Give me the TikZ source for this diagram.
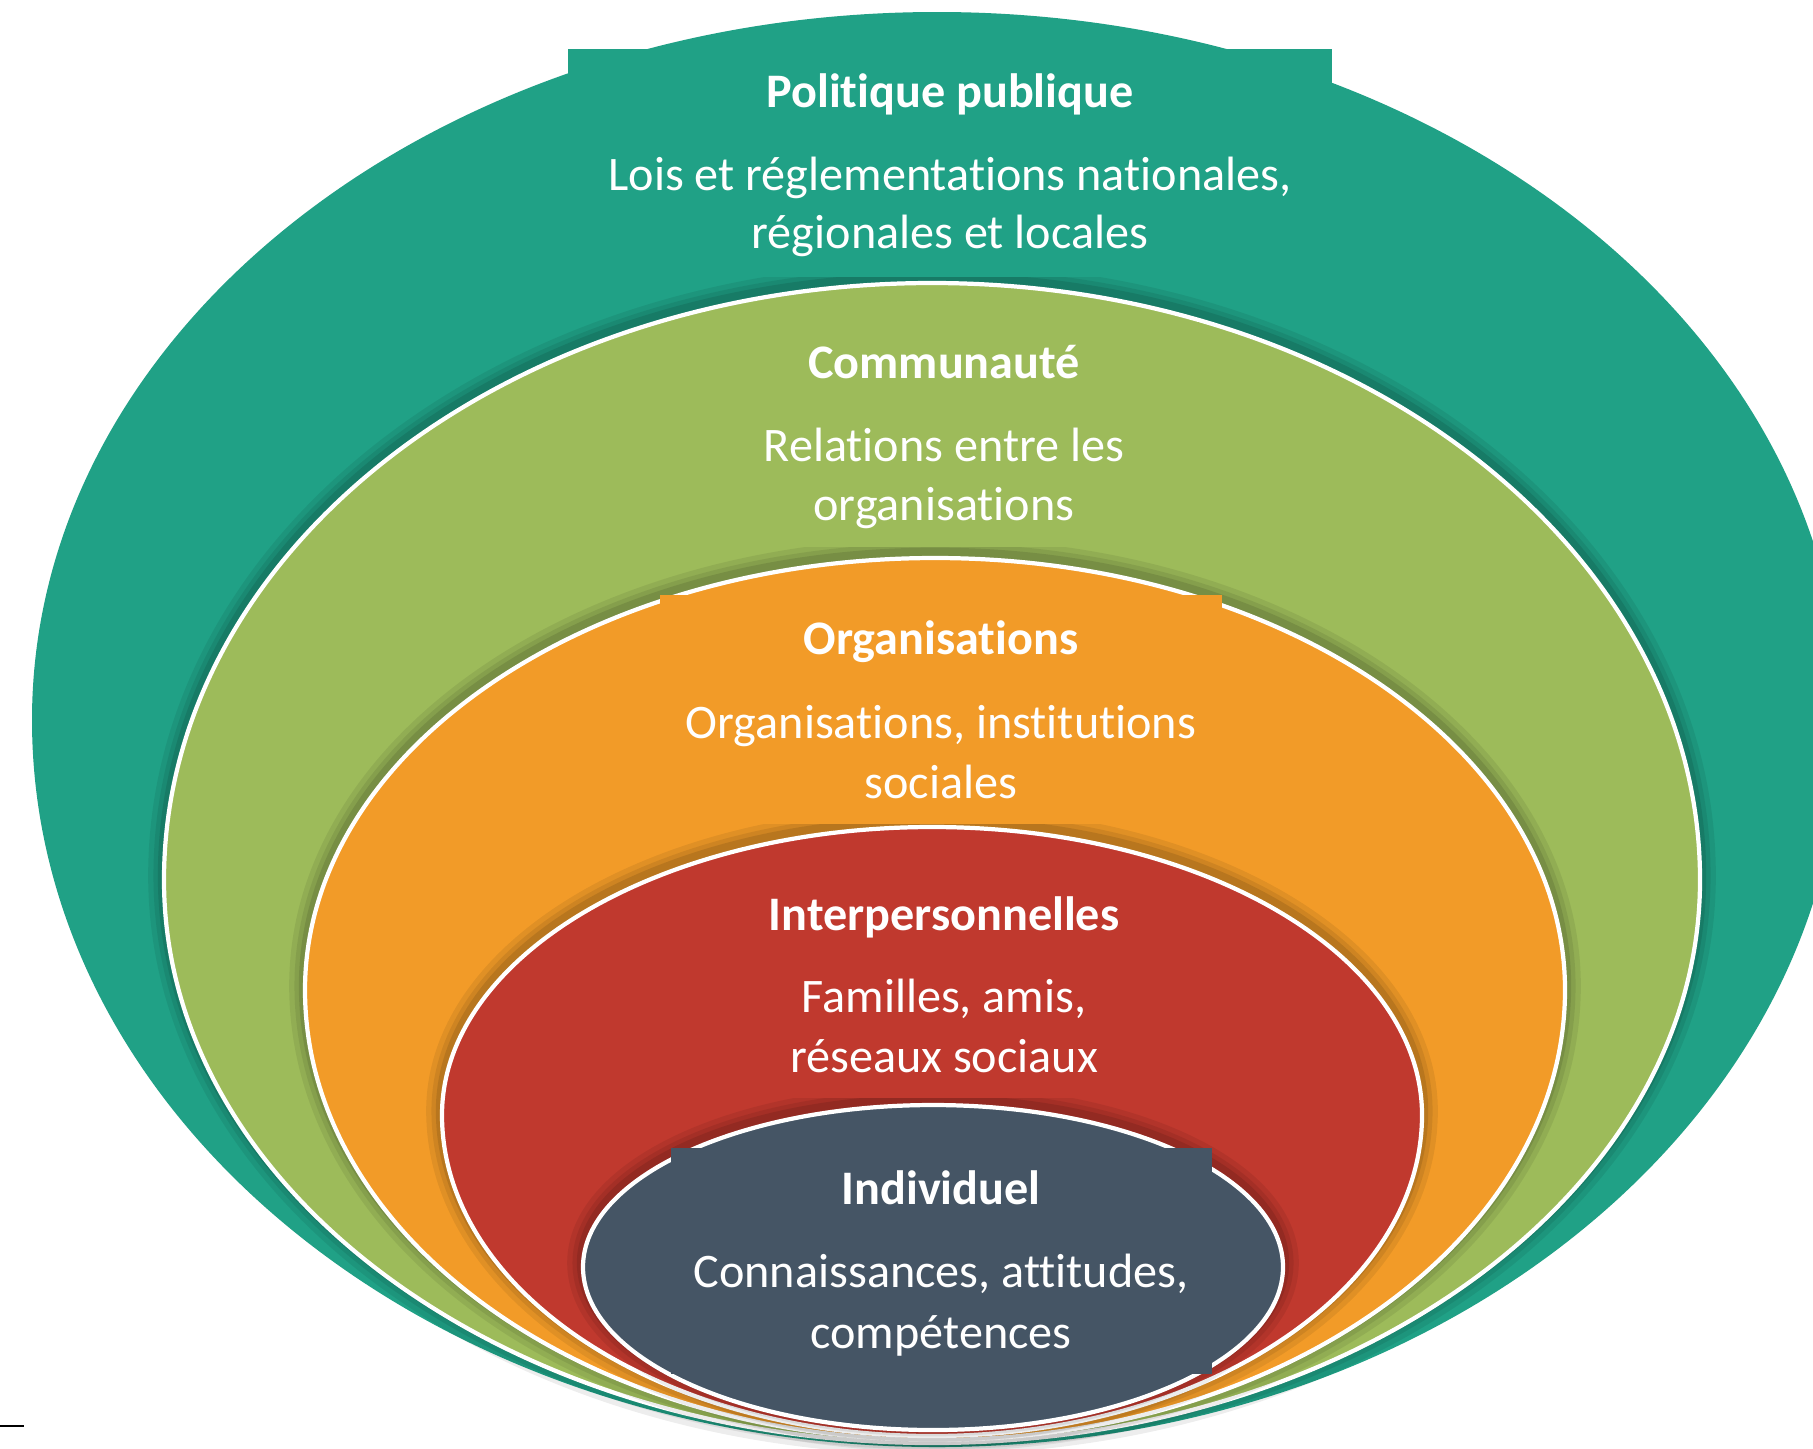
\documentclass[tikz,border=0pt]{standalone}
\usepackage{fontspec}
\setmainfont[Ligatures={NoCommon}]{Carlito}
\definecolor{cTeal}{RGB}{32,161,134}
\definecolor{cGreen}{RGB}{157,187,90}
\definecolor{cOrange}{RGB}{242,155,40}
\definecolor{cRed}{RGB}{192,57,46}
\definecolor{cNavy}{RGB}{69,85,101}
\tikzset{
  eggp/.style n args={5}{insert path={(#1+#3,#2) arc[start angle=0,end angle=180,x radius=#3,y radius=#5] arc[start angle=180,end angle=360,x radius=#3,y radius=#4] -- cycle}},
  rim/.style={draw=white,line width=1.2pt},
  lbl/.style={text=white,font=\fontsize{13.7}{16}\selectfont,anchor=base,inner sep=0pt},
  ttl/.style={lbl,font=\fontsize{13.7}{16}\selectfont\bfseries},
}
\newcommand\eggshadow[5]{%
  \begin{scope}[yshift=1.2pt]
  \draw[black,opacity=.07,line width=9pt,eggp={#1}{#2}{#3}{#4}{#5}];
  \draw[black,opacity=.08,line width=6pt,eggp={#1}{#2}{#3}{#4}{#5}];
  \draw[black,opacity=.1,line width=3.5pt,eggp={#1}{#2}{#3}{#4}{#5}];
  \end{scope}}
\newcommand\eggfill[6]{%
  \fill[#6,eggp={#1}{#2}{#3}{#4}{#5}];
  \draw[rim,eggp={#1}{#2}{#3}{#4}{#5}];}
\begin{document}
\begin{tikzpicture}[x=0.01cm,y=-0.01cm]
\useasboundingbox (0,0) rectangle (1813,1448);
\fill[white] (0,0) rectangle (1813,1448);
% outer layer
\fill[cTeal,eggp={937}{720}{905}{708}{727}];
\eggshadow{932}{880}{768}{597}{563}
\fill[cTeal] (568,49) rectangle (1332,277);
% community
\eggfill{932}{880}{768}{597}{563}{cGreen}
\eggshadow{935}{990}{630}{432}{450}
\fill[cGreen] (689,322) rectangle (1199,547);
% organisations
\eggfill{935}{990}{630}{432}{450}{cOrange}
\eggshadow{932}{1115}{490}{288}{321}
\fill[cOrange] (660,595) rectangle (1222,824);
% interpersonal
\eggfill{932}{1115}{490}{288}{321}{cRed}
\eggshadow{933}{1267}{350}{162}{163}
\fill[cRed] (703,871) rectangle (1185,1098);
% individual
\eggfill{933}{1267}{350}{162}{163}{cNavy}
\fill[cNavy] (671,1148) rectangle (1212,1374);
% texts
\node[ttl] (t1) at (950,107) {Politique publique};
\node[lbl] (b1a) at (950,190) {Lois et réglementations nationales,};
\node[lbl] (b1b) at (950,248) {régionales et locales};
\node[ttl] (t2) at (944,378) {Communauté};
\node[lbl] (b2a) at (944,461) {Relations entre les};
\node[lbl] (b2b) at (944,520) {organisations};
\node[ttl] (t3) at (941,654) {Organisations};
\node[lbl] (b3a) at (941,738) {Organisations, institutions};
\node[lbl] (b3b) at (941,798) {sociales};
\node[ttl] (t4) at (944,930) {Interpersonnelles};
\node[lbl] (b4a) at (944,1012) {Familles, amis,};
\node[lbl] (b4b) at (944,1072) {réseaux sociaux};
\node[ttl] (t5) at (941,1204) {Individuel};
\node[lbl] (b5a) at (941,1287) {Connaissances, attitudes,};
\node[lbl] (b5b) at (941,1348) {compétences};
% small mark bottom left
\coordinate (m1) at (0,1426);
\coordinate (m2) at (24,1426);
\draw[black,line width=0.6pt] (m1) -- (m2);
\end{tikzpicture}
\end{document}
